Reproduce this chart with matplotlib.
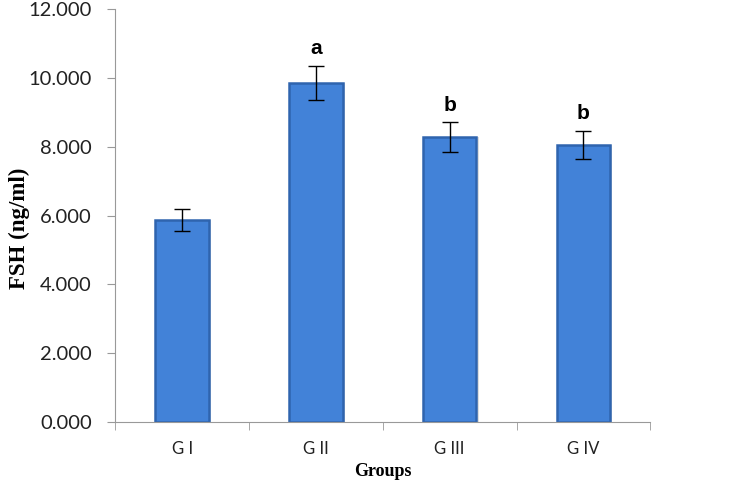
import numpy as np
import matplotlib
matplotlib.use("Agg")
import matplotlib.pyplot as plt

groups = ["G I", "G II", "G III", "G IV"]
fsh = [5.87, 9.85, 8.28, 8.05]
err = [0.32, 0.50, 0.43, 0.41]
letters = ["", "a", "b", "b"]

fig = plt.figure(figsize=(7.44, 4.8), dpi=100)
ax = fig.add_axes([0.155, 0.121, 0.719, 0.860])

x = np.arange(len(groups))
# soft shadow behind the bars
ax.bar(x + 0.012, fsh, width=0.41, color="#bfbfbf", alpha=0.5, linewidth=0, zorder=1)
ax.bar(x, fsh, width=0.4, color="#4282D8", edgecolor="#2F64AE", linewidth=1.8,
       zorder=2, yerr=err,
       error_kw=dict(ecolor="black", elinewidth=1.0, capsize=6, capthick=1.0, zorder=3))

for xi, v, e, t in zip(x, fsh, err, letters):
    if t:
        ax.text(xi, v + e + 0.22, t, ha="center", va="bottom",
                fontsize=15, fontweight="bold", family="Liberation Sans")

ax.set_xlim(-0.5, 3.5)
ax.set_ylim(0, 12)
ax.set_yticks(np.arange(0, 13, 2))
ax.set_yticklabels([f"{v:.3f}" for v in np.arange(0, 13, 2)])
ax.set_xticks(x)
ax.set_xticklabels(groups)
ax.set_xticks(np.arange(-0.5, 4, 1), minor=True)
ax.tick_params(axis="x", which="major", length=0, pad=14)
ax.tick_params(axis="x", which="minor", length=6, color="#999999")
ax.tick_params(axis="y", length=6, color="#999999", pad=11)
for lab in ax.get_xticklabels():
    lab.set_family("Lato")
    lab.set_fontsize(12)
    lab.set_color("#222222")
for lab in ax.get_yticklabels():
    lab.set_family("Lato")
    lab.set_fontsize(14.5)
    lab.set_color("#222222")

for s in ["top", "right"]:
    ax.spines[s].set_visible(False)
for s in ["left", "bottom"]:
    ax.spines[s].set_color("#999999")

ax.set_ylabel("FSH (ng/ml)", family="Liberation Serif", fontweight="bold", fontsize=16.5)
ax.yaxis.set_label_coords(-0.16, 0.47)
ax.set_xlabel("Groups", family="Liberation Serif", fontweight="bold", fontsize=13, labelpad=4)

fig.savefig("out.png", dpi=100)
